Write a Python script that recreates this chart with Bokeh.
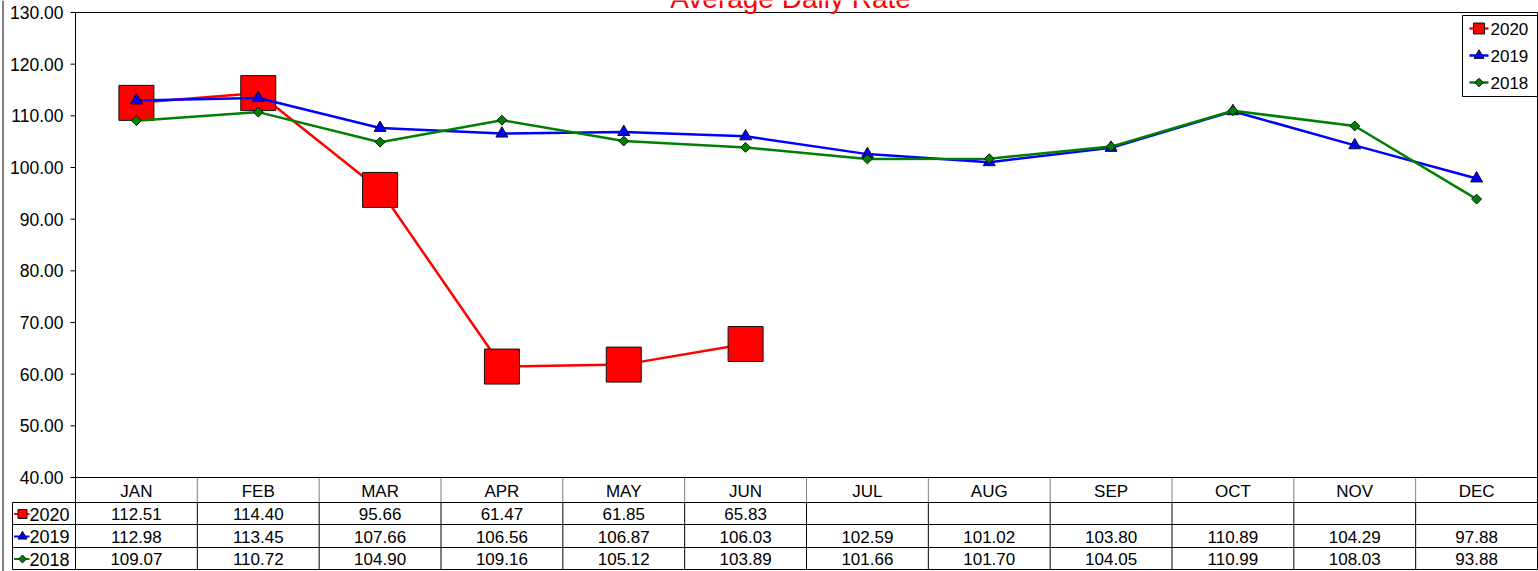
import math
from bokeh.plotting import figure
from bokeh.models import Range1d
from bokeh.core.properties import value
from bokeh.embed import file_html
from bokeh.resources import INLINE

# ---------------- data ----------------
months = ["JAN", "FEB", "MAR", "APR", "MAY", "JUN", "JUL", "AUG", "SEP", "OCT", "NOV", "DEC"]
series_names = ["2020", "2019", "2018"]
adr_2020 = [112.51, 114.40, 95.66, 61.47, 61.85, 65.83]
adr_2019 = [112.98, 113.45, 107.66, 106.56, 106.87, 106.03, 102.59, 101.02, 103.80, 110.89, 104.29, 97.88]
adr_2018 = [109.07, 110.72, 104.90, 109.16, 105.12, 103.89, 101.66, 101.70, 104.05, 110.99, 108.03, 93.88]
y_ticks = [40, 50, 60, 70, 80, 90, 100, 110, 120, 130]
title_text = "Average Daily Rate"

series_values = {"2020": adr_2020, "2019": adr_2019, "2018": adr_2018}
colors = {"2020": "#FF0000", "2019": "#0000FF", "2018": "#008000"}

FONT = value("Liberation Sans")

# ---------------- layout (pixels) ----------------
W, H = 1538, 571
PL, PR, PT, PB = 75, 1537, 12, 477
Y_MIN, Y_MAX = y_ticks[0], y_ticks[-1]
n = len(months)
ux = (PR - PL) / n
uy = (PB - PT) / (Y_MAX - Y_MIN)
x0 = -PL / ux
x1 = n + (W - PR) / ux
y1 = Y_MAX + PT / uy
y0 = Y_MIN - (H - PB) / uy


def X(px):
    return x0 + px / ux


def Y(py):
    return y1 - py / uy


p = figure(width=W, height=H, x_range=Range1d(x0, x1), y_range=Range1d(y0, y1),
           x_axis_type=None, y_axis_type=None, output_backend="svg",
           toolbar_location=None, min_border=0, outline_line_color=None,
           background_fill_color="white", border_fill_color="white")

# ---------------- frame / axes lines ----------------
# chart-area left border
p.segment(x0=[X(2.5)], y0=[y0], x1=[X(2.5)], y1=[y1], line_color="#000000", line_width=1)
# plot area: left axis, top, right border, bottom axis
p.segment(x0=[0, 0, n, 0], y0=[Y_MIN, Y_MAX, Y_MAX, Y_MIN],
          x1=[0, n, n, n], y1=[Y_MAX, Y_MAX, Y_MIN, Y_MIN],
          line_color="#000000", line_width=1)
# y ticks
p.segment(x0=[X(70)] * len(y_ticks), y0=y_ticks, x1=[0] * len(y_ticks), y1=y_ticks,
          line_color="#000000", line_width=1)
p.text(x=[X(63)] * len(y_ticks), y=y_ticks, text=["%.2f" % t for t in y_ticks],
       text_align="right", text_baseline="middle", text_font=FONT,
       text_font_size="17.5px", text_color="#000000")

# title (clipped at top like the reference)
p.text(x=[X(790)], y=[Y(-2)], text=[title_text], text_align="center",
       text_baseline="alphabetic", text_font=FONT, text_font_size="28px",
       text_color="#FF0000")

# ---------------- series ----------------
xs_all = [i + 0.5 for i in range(n)]
marker_cfg = {
    "2020": dict(marker="square", size=35, angle=0.0),
    "2019": dict(marker="triangle", size=12, angle=0.0),
    "2018": dict(marker="square", size=7, angle=math.pi / 4),
}
legend_marker_cfg = {
    "2020": dict(marker="square", size=11, angle=0.0),
    "2019": dict(marker="triangle", size=10, angle=0.0),
    "2018": dict(marker="square", size=6, angle=math.pi / 4),
}
key_marker_cfg = {
    "2020": dict(marker="square", size=9, angle=0.0),
    "2019": dict(marker="triangle", size=9, angle=0.0),
    "2018": dict(marker="square", size=5.5, angle=math.pi / 4),
}

for name in series_names:
    vals = series_values[name]
    xs = xs_all[:len(vals)]
    p.line(xs, vals, line_color=colors[name], line_width=2.5)
    p.scatter(xs, vals, fill_color=colors[name], line_color="#111111", line_width=1,
              **marker_cfg[name])

# ---------------- legend ----------------
p.quad(left=[X(1462)], right=[X(1537)], top=[Y(15)], bottom=[Y(96)],
       fill_color="white", line_color="#000000", line_width=1)
leg_rows = [28, 55, 82]
for name, ry in zip(series_names, leg_rows):
    p.segment(x0=[X(1469)], y0=[Y(ry)], x1=[X(1488)], y1=[Y(ry)],
              line_color=colors[name], line_width=2.5)
    p.scatter([X(1478.5)], [Y(ry)], fill_color=colors[name], line_color="#111111",
              line_width=1, **legend_marker_cfg[name])
    p.text(x=[X(1490)], y=[Y(ry)], text=[name], text_align="left",
           text_baseline="middle", text_font=FONT, text_font_size="17px",
           text_color="#000000")

# ---------------- data table ----------------
HDR_T, HDR_B = 477, 502
row_edges = [502, 524, 547, 569]
KEY_L = 12

# header row separators (gray)
p.segment(x0=list(range(1, n)), y0=[Y(HDR_T)] * (n - 1), x1=list(range(1, n)),
          y1=[Y(HDR_B)] * (n - 1), line_color="#808080", line_width=1)
# left and right of header row
p.segment(x0=[0, n], y0=[Y(HDR_T)] * 2, x1=[0, n], y1=[Y(HDR_B)] * 2,
          line_color="#000000", line_width=1)
# data row separators
p.segment(x0=list(range(0, n + 1)), y0=[Y(row_edges[0])] * (n + 1),
          x1=list(range(0, n + 1)), y1=[Y(row_edges[-1])] * (n + 1),
          line_color="#000000", line_width=1)
p.segment(x0=[X(KEY_L)], y0=[Y(row_edges[0])], x1=[X(KEY_L)], y1=[Y(row_edges[-1])],
          line_color="#000000", line_width=1)
# horizontal lines
p.segment(x0=[X(KEY_L)] * len(row_edges), y0=[Y(r) for r in row_edges],
          x1=[n] * len(row_edges), y1=[Y(r) for r in row_edges],
          line_color="#000000", line_width=1)

# header labels
p.text(x=xs_all, y=[Y((HDR_T + HDR_B) / 2 + 1)] * n, text=months, text_align="center",
       text_baseline="middle", text_font=FONT, text_font_size="17px", text_color="#000000")

for k, name in enumerate(series_names):
    vals = series_values[name]
    cy = (row_edges[k] + row_edges[k + 1]) / 2 + 0.5
    p.text(x=xs_all[:len(vals)], y=[Y(cy)] * len(vals), text=["%.2f" % v for v in vals],
           text_align="center", text_baseline="middle", text_font=FONT,
           text_font_size="17px", text_color="#000000")
    # key
    p.segment(x0=[X(13.5)], y0=[Y(cy)], x1=[X(29)], y1=[Y(cy)],
              line_color=colors[name], line_width=2)
    p.scatter([X(22)], [Y(cy)], fill_color=colors[name], line_color="#111111",
              line_width=1, **key_marker_cfg[name])
    p.text(x=[X(29)], y=[Y(cy)], text=[name], text_align="left", text_baseline="middle",
           text_font=FONT, text_font_size="18px", text_color="#000000")

open("out.html", "w").write(file_html(p, INLINE))
